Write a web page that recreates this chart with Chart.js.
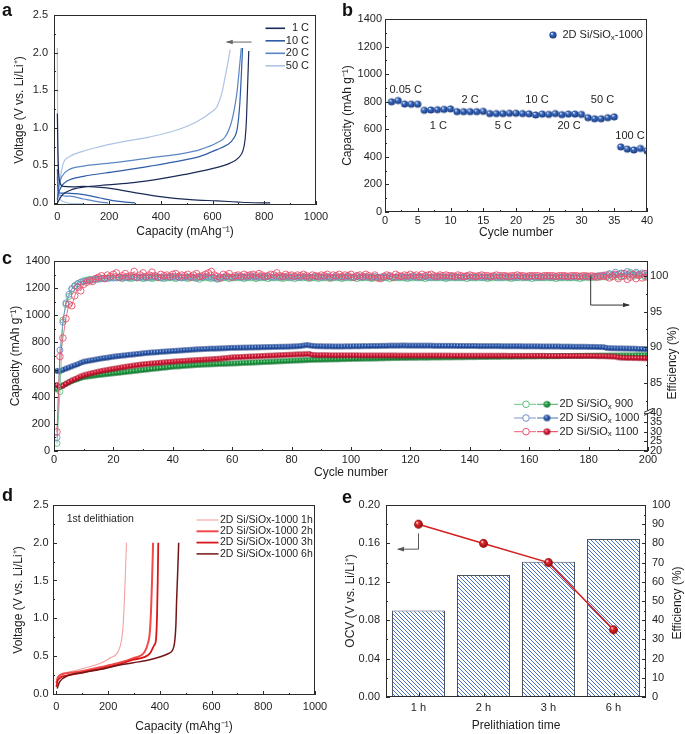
<!DOCTYPE html>
<html>
<head>
<meta charset="utf-8">
<script src="https://cdn.jsdelivr.net/npm/chart.js@4.4.1/dist/chart.umd.min.js"></script>
<style>
  body { margin: 0; background: #fff; width: 685px; height: 734px; position: relative; overflow: hidden;
         font-family: "Liberation Sans", Arial, Helvetica, sans-serif; }
  canvas { position: absolute; }
  .lt { position: absolute; font-weight: bold; font-size: 18px; line-height: 18px; color: #111; }
</style>
</head>
<body>
<canvas id="ca" width="340" height="240" style="left:0;top:0"></canvas>
<canvas id="cb" width="345" height="240" style="left:340px;top:0"></canvas>
<canvas id="cc" width="685" height="245" style="left:0;top:240px"></canvas>
<canvas id="cd" width="340" height="249" style="left:0;top:485px"></canvas>
<canvas id="ce" width="345" height="249" style="left:340px;top:485px"></canvas>
<div class="lt" style="left:2px;top:1px">a</div>
<div class="lt" style="left:342px;top:1px">b</div>
<div class="lt" style="left:2px;top:249px">c</div>
<div class="lt" style="left:2px;top:486px">d</div>
<div class="lt" style="left:342px;top:488px">e</div>

<script>
// ---------- panel a : charge / discharge at different rates ----------
const aRates = ['1 C', '10 C', '20 C', '50 C'];
const aColors = ['#1b2a57', '#2f5ca8', '#5b86c4', '#aec4e4'];
const capCh1 = [0, 8, 20, 50, 100, 191, 294, 397, 488, 591, 668, 700, 718, 726, 731, 735, 738, 740];
const vCh1 = [0, 0.05, 0.11, 0.17, 0.21, 0.24, 0.27, 0.32, 0.376, 0.45, 0.53, 0.6, 0.7, 0.85, 1.1, 1.5, 1.8, 2.02];
const capCh10 = [0, 4, 10, 20, 36, 101, 230, 359, 488, 552, 617, 655, 680, 696, 705, 711, 716];
const vCh10 = [0.03, 0.12, 0.18, 0.24, 0.29, 0.354, 0.42, 0.49, 0.57, 0.62, 0.71, 0.77, 0.85, 1.0, 1.3, 1.68, 2.06];
const capCh20 = [0, 4, 10, 17, 49, 101, 230, 359, 488, 552, 617, 649, 675, 694, 704, 711];
const vCh20 = [0.05, 0.18, 0.28, 0.35, 0.45, 0.49, 0.54, 0.6, 0.66, 0.71, 0.8, 0.88, 1.1, 1.46, 1.8, 2.06];
const capCh50 = [0, 4, 12, 17, 23, 49, 101, 165, 230, 359, 462, 539, 600, 617, 636, 650, 660, 668];
const vCh50 = [0.05, 0.18, 0.35, 0.44, 0.53, 0.62, 0.69, 0.75, 0.8, 0.88, 0.97, 1.08, 1.22, 1.28, 1.46, 1.7, 1.88, 2.04];
const capDis1 = [0, 2, 5, 10, 23, 60, 101, 191, 294, 397, 514, 617, 700, 733, 823];
const vDis1 = [1.19, 0.7, 0.4, 0.27, 0.22, 0.215, 0.22, 0.2, 0.14, 0.085, 0.045, 0.027, 0.012, 0.006, 0.0];
const capDis10 = [0, 3, 10, 36, 101, 165, 230, 300];
const vDis10 = [0.45, 0.2, 0.13, 0.13, 0.11, 0.066, 0.025, 0.0];
const capDis20 = [0, 2, 4, 49, 101, 165, 197];
const vDis20 = [0.35, 0.15, 0.11, 0.09, 0.053, 0.012, 0.0];
const capDis50 = [0, 1, 2, 5, 23, 62, 100];
const vDis50 = [2.06, 1.0, 0.3, 0.09, 0.02, -0.01, -0.01];

// ---------- panel b : rate capability ----------
const bCycles = [1,2,3,4,5,6,7,8,9,10,11,12,13,14,15,16,17,18,19,20,21,22,23,24,25,26,27,28,29,30,31,32,33,34,35,36,37,38,39,40];
const bCapacity = [799, 808, 783, 782, 782, 738, 740, 742, 744, 748, 728, 728, 728, 728, 730, 714, 714, 714, 716, 716,
                   714, 712, 704, 710, 708, 714, 706, 710, 710, 708, 684, 676, 676, 684, 690, 472, 456, 450, 461, 444];
const rateText = ['0.05 C', '2 C', '10 C', '50 C', '1 C', '5 C', '20 C', '100 C'];
const rateX = [3.16, 13, 23.2, 33.2, 8.14, 18.06, 28.1, 37.4];
const rateY = [885, 812, 812, 812, 626, 626, 626, 551];

// ---------- panel c : cycling, 200 cycles ----------
const cCycles = Array.from({ length: 200 }, (_, i) => i + 1);
const cap900 = [
  455, 472, 485, 495, 505, 515, 523, 530, 538, 545,  548, 551, 554, 557, 560, 562, 565, 567, 570, 572,
  575, 577, 580, 582, 585, 587, 590, 592, 595, 597,  600, 602, 605, 607, 609, 612, 614, 616, 619, 621,
  623, 624, 626, 628, 629, 631, 632, 634, 635, 636,  637, 638, 639, 640, 641, 642, 642, 643, 644, 645,
  646, 647, 648, 649, 650, 651, 652, 653, 654, 655,  656, 657, 658, 659, 660, 661, 662, 663, 664, 665,
  666, 667, 668, 669, 670, 671, 672, 672, 673, 673,  674, 674, 675, 675, 676, 676, 677, 677, 678, 678,
  679, 679, 680, 680, 681, 681, 681, 682, 682, 683,  683, 684, 684, 685, 685, 685, 686, 686, 686, 687,
  687, 687, 688, 688, 688, 688, 689, 689, 689, 689,  690, 690, 690, 690, 691, 691, 691, 691, 692, 692,
  692, 692, 693, 693, 693, 693, 694, 694, 694, 694,  695, 695, 695, 695, 696, 696, 696, 696, 697, 697,
  697, 697, 698, 698, 698, 698, 699, 699, 699, 699,  700, 700, 700, 700, 701, 701, 701, 701, 702, 702,
  702, 702, 703, 703, 703, 703, 704, 704, 704, 704,  705, 705, 705, 705, 705, 706, 706, 706, 706, 706];
const cap1000 = [
  590, 588, 598, 607, 615, 624, 632, 640, 650, 658,  662, 666, 670, 674, 678, 682, 685, 688, 692, 695,
  698, 700, 703, 705, 708, 710, 712, 715, 717, 720,  722, 724, 726, 727, 729, 731, 732, 734, 735, 737,
  738, 740, 741, 743, 744, 746, 747, 749, 750, 751,  752, 753, 754, 754, 755, 756, 757, 758, 759, 760,
  760, 761, 761, 762, 762, 763, 763, 764, 764, 765,  765, 766, 766, 767, 767, 768, 768, 769, 769, 770,
  771, 772, 774, 777, 781, 778, 775, 773, 772, 772,  771, 771, 771, 770, 770, 770, 770, 771, 771, 771,
  772, 772, 772, 773, 773, 773, 774, 774, 774, 775,  775, 775, 776, 776, 776, 776, 777, 777, 776, 776,
  776, 776, 776, 776, 776, 776, 776, 775, 775, 775,  775, 775, 775, 775, 775, 774, 774, 774, 774, 774,
  774, 774, 773, 773, 773, 773, 773, 773, 773, 773,  772, 772, 772, 772, 772, 772, 772, 771, 771, 771,
  771, 771, 771, 770, 770, 770, 770, 770, 770, 770,  769, 769, 769, 769, 768, 768, 768, 768, 768, 767,
  767, 767, 766, 766, 765, 760, 758, 757, 757, 756,  756, 755, 755, 754, 754, 753, 752, 752, 751, 750];
const cap1100 = [
  486, 472, 480, 495, 508, 520, 530, 540, 550, 558,  564, 570, 575, 580, 585, 590, 594, 598, 602, 606,
  609, 613, 617, 620, 624, 627, 630, 633, 636, 639,  641, 643, 645, 647, 649, 651, 653, 655, 656, 658,
  660, 661, 663, 664, 666, 667, 668, 670, 671, 672,  674, 675, 676, 678, 679, 681, 683, 685, 688, 690,
  691, 692, 693, 694, 695, 696, 697, 698, 699, 700,  701, 702, 703, 704, 705, 706, 707, 708, 709, 710,
  711, 712, 712, 713, 714, 715, 708, 707, 706, 706,  706, 706, 705, 705, 705, 705, 705, 705, 705, 705,
  705, 705, 704, 704, 704, 704, 704, 704, 704, 704,  704, 704, 704, 704, 704, 703, 703, 703, 703, 703,
  703, 703, 703, 703, 703, 703, 703, 703, 703, 703,  703, 703, 703, 702, 702, 702, 702, 702, 702, 702,
  702, 702, 702, 702, 702, 702, 702, 702, 702, 702,  702, 702, 701, 701, 701, 701, 701, 701, 701, 701,
  701, 701, 701, 701, 701, 700, 700, 700, 700, 700,  700, 700, 700, 700, 700, 700, 700, 700, 700, 700,
  700, 700, 699, 699, 699, 698, 697, 696, 695, 690,  688, 687, 686, 686, 685, 685, 684, 684, 683, 683];
const eff900 = [
  24.0, 83.8, 93.8, 96.0, 97.1, 98.1, 98.6, 98.9, 99.1, 99.3,  99.4, 99.5, 99.5, 99.6, 99.6, 99.6, 99.7, 99.7, 99.7, 99.7,
  99.7, 99.7, 99.6, 99.7, 99.7, 99.6, 99.7, 99.7, 99.7, 99.6,  99.7, 99.7, 99.6, 99.7, 99.7, 99.7, 99.6, 99.7, 99.7, 99.7,
  99.6, 99.7, 99.7, 99.7, 99.6, 99.7, 99.7, 99.6, 99.5, 99.7,  99.7, 99.7, 99.6, 99.7, 99.5, 99.6, 99.7, 99.7, 99.6, 99.7,
  99.7, 99.7, 99.7, 99.6, 99.7, 99.7, 99.7, 99.6, 99.7, 99.7,  99.7, 99.6, 99.7, 99.7, 99.7, 99.7, 99.6, 99.7, 99.7, 99.7,
  99.6, 99.7, 99.7, 99.7, 99.7, 99.6, 99.7, 99.7, 99.6, 99.7,  99.7, 99.7, 99.6, 99.7, 99.7, 99.7, 99.6, 99.7, 99.7, 99.7,
  99.7, 99.6, 99.7, 99.7, 99.7, 99.7, 99.6, 99.7, 99.7, 99.7,  99.7, 99.7, 99.6, 99.7, 99.7, 99.7, 99.7, 99.7, 99.6, 99.7,
  99.7, 99.7, 99.7, 99.7, 99.6, 99.7, 99.7, 99.7, 99.7, 99.7,  99.7, 99.6, 99.7, 99.7, 99.7, 99.7, 99.7, 99.7, 99.6, 99.7,
  99.7, 99.7, 99.7, 99.7, 99.7, 99.6, 99.7, 99.7, 99.7, 99.7,  99.7, 99.7, 99.7, 99.6, 99.7, 99.7, 99.7, 99.7, 99.7, 99.7,
  99.6, 99.7, 99.7, 99.7, 99.7, 99.7, 99.7, 99.7, 99.6, 99.7,  99.7, 99.7, 99.7, 99.7, 99.7, 99.7, 99.6, 99.7, 99.8, 99.7,
  99.8, 99.7, 99.9, 99.8, 100.0, 99.8, 100.2, 99.9, 100.1, 99.8,  100.3, 99.9, 100.2, 100.5, 99.9, 100.3, 100.0, 100.2, 99.8, 100.1];
const eff1000 = [
  27.0, 89.6, 93.5, 96.2, 97.4, 98.2, 98.6, 98.9, 99.1, 99.2,  99.3, 99.4, 99.4, 99.5, 99.5, 99.6, 99.6, 99.6, 99.7, 99.7,
  99.7, 99.8, 99.7, 99.8, 99.7, 99.8, 99.8, 99.7, 99.8, 99.8,  99.7, 99.8, 99.8, 99.9, 99.8, 99.7, 99.8, 99.8, 99.8, 99.9,
  99.8, 99.8, 99.7, 99.8, 99.8, 99.9, 99.8, 99.7, 99.8, 99.8,  99.9, 99.8, 99.8, 99.7, 99.6, 99.8, 99.8, 99.9, 99.8, 99.8,
  99.8, 99.9, 99.8, 99.8, 99.8, 99.9, 99.9, 99.8, 99.8, 99.9,  99.8, 99.9, 99.8, 99.8, 99.9, 99.8, 99.8, 99.9, 99.8, 99.8,
  99.9, 99.8, 99.8, 99.9, 99.8, 99.8, 99.8, 99.9, 99.8, 99.8,  99.8, 99.9, 99.8, 99.8, 99.9, 99.8, 99.8, 99.8, 99.9, 99.8,
  99.8, 99.9, 99.8, 99.8, 99.9, 99.8, 99.8, 99.9, 99.8, 99.8,  99.8, 99.8, 99.9, 99.8, 99.8, 99.8, 99.9, 99.8, 99.8, 99.8,
  99.9, 99.8, 99.8, 99.8, 99.9, 99.8, 99.8, 99.8, 99.8, 99.9,  99.8, 99.8, 99.8, 99.9, 99.8, 99.8, 99.8, 99.8, 99.9, 99.8,
  99.8, 99.8, 99.9, 99.8, 99.8, 99.8, 99.8, 99.9, 99.8, 99.8,  99.8, 99.9, 99.8, 99.8, 99.8, 99.8, 99.9, 99.8, 99.8, 99.8,
  99.9, 99.8, 99.8, 99.8, 99.8, 99.9, 99.8, 99.8, 99.9, 99.8,  99.8, 99.9, 99.8, 99.8, 99.9, 99.8, 99.9, 99.8, 99.9, 99.9,
  99.8, 99.9, 100.0, 99.9, 100.1, 99.9, 100.3, 100.1, 100.5, 100.2,  100.4, 100.0, 100.6, 100.3, 100.1, 100.5, 100.2, 100.4, 100.0, 100.3];
const eff1100 = [
  30.0, 88.7, 91.3, 94.0, 96.0, 95.8, 97.2, 98.4, 97.9, 98.8,  99.1, 99.3, 99.2, 99.6, 99.8, 100.0, 99.6, 100.1, 99.9, 100.2,
  100.4, 99.8, 100.0, 100.3, 99.9, 100.0, 100.6, 99.8, 100.1, 100.4,  99.9, 100.1, 100.5, 100.0, 99.8, 100.2, 100.0, 100.1, 99.9, 100.2,
  100.3, 99.9, 100.1, 100.0, 100.2, 99.8, 100.1, 100.3, 99.9, 100.0,  100.2, 100.4, 100.6, 100.1, 99.9, 99.7, 100.2, 100.0, 100.3, 99.8,
  100.0, 100.1, 99.9, 100.2, 100.0, 100.1, 100.2, 100.0, 100.3, 100.1,  99.9, 100.0, 100.2, 100.1, 100.4, 100.0, 99.9, 100.2, 100.0, 100.1,
  99.9, 100.1, 100.0, 100.2, 100.0, 99.8, 100.1, 100.0, 99.9, 100.1,  100.0, 100.2, 99.8, 100.1, 100.0, 100.2, 99.9, 100.1, 100.0, 100.2,
  99.8, 100.0, 100.1, 99.9, 100.2, 100.0, 99.8, 100.1, 99.7, 99.6,  99.9, 100.1, 100.0, 99.8, 100.2, 100.0, 99.9, 100.1, 100.0, 100.2,
  100.0, 100.1, 99.9, 100.2, 100.0, 100.1, 100.2, 100.0, 99.9, 100.1,  100.0, 100.1, 100.0, 100.0, 99.9, 100.1, 100.0, 99.9, 100.0, 100.1,
  100.0, 99.9, 100.0, 100.1, 100.0, 100.0, 99.9, 100.0, 100.1, 100.0,  100.0, 100.0, 99.9, 100.0, 100.0, 100.1, 100.0, 100.0, 99.9, 100.0,
  100.0, 100.0, 100.0, 99.9, 100.0, 100.0, 100.0, 100.0, 99.9, 100.0,  100.0, 100.0, 99.9, 100.0, 100.0, 100.0, 99.9, 100.0, 100.0, 99.9,
  100.0, 99.9, 99.8, 100.0, 99.9, 100.1, 99.7, 99.9, 100.2, 99.6,  99.9, 100.3, 99.5, 99.8, 100.2, 99.6, 100.1, 99.7, 100.3, 99.8];
const effTickVals = [20, 25, 30, 35, 40, 85, 90, 95, 100];
const effMinorVals = [82.5, 87.5, 92.5, 97.5];

// ---------- panel d : 1st delithiation after prelithiation ----------
const dNames = ['2D Si/SiOx-1000 1h', '2D Si/SiOx-1000 2h', '2D Si/SiOx-1000 3h', '2D Si/SiOx-1000 6h'];
const dColors = ['#f3a2a2', '#f04a4a', '#d81818', '#741515'];
const capD1 = [0, 3, 13, 52, 103, 168, 206, 239, 252, 258, 263, 267, 271];
const vD1 = [0.11, 0.18, 0.25, 0.29, 0.335, 0.4, 0.47, 0.56, 0.71, 0.9, 1.24, 1.6, 2.0];
const capD2 = [0, 6, 39, 103, 168, 232, 297, 342, 355, 361, 366, 370, 374];
const vD2 = [0.14, 0.22, 0.27, 0.3, 0.35, 0.4, 0.47, 0.56, 0.68, 0.8, 1.1, 1.5, 2.0];
const capD3 = [0, 6, 39, 103, 168, 232, 297, 361, 378, 385, 389, 392, 394];
const vD3 = [0.09, 0.18, 0.24, 0.28, 0.33, 0.38, 0.45, 0.53, 0.64, 0.71, 1.0, 1.5, 2.0];
const capD6 = [3, 13, 39, 103, 168, 232, 297, 361, 432, 454, 462, 465, 469, 473];
const vD6 = [0.07, 0.16, 0.23, 0.28, 0.32, 0.37, 0.41, 0.45, 0.53, 0.62, 0.9, 1.24, 1.6, 2.0];

// ---------- panel e : prelithiation time ----------
const eTimes = ['1 h', '2 h', '3 h', '6 h'];
const eEfficiency = [45, 63.5, 70.5, 82.3];
const eOCV = [0.18, 0.16, 0.14, 0.07];

// ---------------------------------------------------------------------
const FONT = '"Liberation Sans", Arial, Helvetica, sans-serif';
const INK = '#1e1e1e';
Chart.defaults.font.family = FONT;
Chart.defaults.font.size = 11;
Chart.defaults.color = INK;
Chart.defaults.animation = false;
Chart.defaults.responsive = false;
Chart.defaults.plugins.legend.display = false;
Chart.defaults.plugins.tooltip.enabled = false;

const pts = (xs, ys) => xs.map((x, i) => ({ x, y: ys[i] }));
const steps = (a, b, st) => { const r = []; for (let v = a; v <= b + 1e-9; v += st) r.push(+v.toFixed(4)); return r; };

// efficiency axis of panel c is broken: 20-40 below, ~81-102 above
function effToAxis(e) {
  if (e <= 40) return (e - 20) * 1.92;
  if (e >= 81.1) return 68 + (e - 85) * 7.15;
  return 38.4 + (e - 40) / 41.1 * 1.6;
}

function axis(o) {
  const a = {
    type: o.type || 'linear',
    position: o.pos,
    grid: { display: false, drawTicks: false },
    border: { display: false },
    afterFit: o.pos === 'bottom' ? s => { s.height = o.size; } : s => { s.width = o.size; },
    ticks: { padding: o.pad, maxRotation: 0, autoSkip: false, color: INK, font: { size: 11 } },
    title: o.title ? { display: true, text: o.title, color: INK, font: { size: 12 }, padding: o.tpad } : { display: false }
  };
  if (o.min !== undefined) a.min = o.min;
  if (o.max !== undefined) a.max = o.max;
  if (o.ticks) a.afterBuildTicks = s => { s.ticks = o.ticks.map(v => ({ value: v })); };
  if (o.fmt) a.ticks.callback = o.fmt;
  else if (a.type === 'linear') a.ticks.callback = v => String(v);
  if (o.offset !== undefined) a.offset = o.offset;
  return a;
}

// frame + inward tick marks
function frame(minor) {
  return {
    id: 'frame',
    afterDatasetsDraw(chart) {
      const { ctx, chartArea: a, scales } = chart;
      ctx.save();
      ctx.strokeStyle = '#2b2b2b';
      ctx.lineWidth = 1;
      ctx.beginPath();
      for (const id in scales) {
        const s = scales[id];
        const mk = (vals, len) => vals.forEach(v => {
          const p = Math.round(s.getPixelForValue(v)) + 0.5;
          if (s.position === 'left') { ctx.moveTo(a.left, p); ctx.lineTo(a.left + len, p); }
          else if (s.position === 'right') { ctx.moveTo(a.right, p); ctx.lineTo(a.right - len, p); }
          else { ctx.moveTo(p, a.bottom); ctx.lineTo(p, a.bottom - len); }
        });
        mk(s.ticks.map(t => t.value), 4);
        mk(minor[id] || [], 2);
      }
      ctx.stroke();
      ctx.strokeRect(Math.round(a.left) + 0.5, Math.round(a.top) + 0.5, Math.round(a.width) - 1, Math.round(a.height) - 1);
      ctx.restore();
    }
  };
}

function sphere(r, base, dark) {
  const c = document.createElement('canvas');
  const s = Math.ceil(r * 2) + 2;
  c.width = c.height = s;
  const g = c.getContext('2d');
  const m = s / 2;
  const grd = g.createRadialGradient(m - r * 0.35, m - r * 0.4, r * 0.05, m, m, r);
  grd.addColorStop(0, '#ffffff');
  grd.addColorStop(0.3, base);
  grd.addColorStop(1, dark);
  g.fillStyle = grd;
  g.beginPath(); g.arc(m, m, r, 0, Math.PI * 2); g.fill();
  return c;
}

function arrow(ctx, p, color) {
  ctx.save();
  ctx.strokeStyle = color; ctx.fillStyle = color; ctx.lineWidth = 1;
  ctx.beginPath(); ctx.moveTo(p[0][0], p[0][1]);
  for (let i = 1; i < p.length; i++) ctx.lineTo(p[i][0], p[i][1]);
  ctx.stroke();
  const [x1, y1] = p[p.length - 2], [x2, y2] = p[p.length - 1];
  ctx.translate(x2, y2); ctx.rotate(Math.atan2(y2 - y1, x2 - x1));
  ctx.beginPath(); ctx.moveTo(1, 0); ctx.lineTo(-6, -2.3); ctx.lineTo(-6, 2.3); ctx.closePath(); ctx.fill();
  ctx.restore();
}

// text with a subscript part: parts = [[text, isSub], ...]
function rich(ctx, x, y, parts, size) {
  ctx.save();
  ctx.fillStyle = INK; ctx.textBaseline = 'middle'; ctx.textAlign = 'left';
  let cx = x;
  for (const [t, sub] of parts) {
    ctx.font = (sub ? size * 0.72 : size) + 'px ' + FONT;
    ctx.fillText(t, cx, sub ? y + size * 0.22 : y);
    cx += ctx.measureText(t).width;
  }
  ctx.restore();
}

function vTitle(ctx, text, x, y) {
  ctx.save();
  ctx.translate(x, y); ctx.rotate(-Math.PI / 2);
  ctx.font = '12px ' + FONT; ctx.fillStyle = INK;
  ctx.textAlign = 'center'; ctx.textBaseline = 'middle';
  ctx.fillText(text, 0, 0);
  ctx.restore();
}

const curve = (label, xs, ys, color, w) => ({
  label, data: pts(xs, ys), borderColor: color, borderWidth: w || 1.2,
  pointRadius: 0, cubicInterpolationMode: 'monotone', fill: false
});

// ---------------- chart a ----------------
new Chart(document.getElementById('ca'), {
  type: 'line',
  data: {
    datasets: [
      curve('1 C', capCh1, vCh1, aColors[0]), curve('1 C', capDis1, vDis1, aColors[0]),
      curve('10 C', capCh10, vCh10, aColors[1]), curve('10 C', capDis10, vDis10, aColors[1]),
      curve('20 C', capCh20, vCh20, aColors[2]), curve('20 C', capDis20, vDis20, aColors[2]),
      curve('50 C', capCh50, vCh50, aColors[3]), curve('50 C', capDis50, vDis50, aColors[3])
    ]
  },
  options: {
    layout: { padding: { left: 0, right: 24, top: 15, bottom: 0 } },
    scales: {
      x: axis({ pos: 'bottom', min: -13, max: 1000, size: 35, pad: 5, ticks: steps(0, 1000, 200),
                title: 'Capacity (mAhg\u207B\u00B9)', tpad: { top: 0, bottom: 1 } }),
      y: axis({ pos: 'left', min: -0.027, max: 2.5, size: 54, pad: 6, ticks: steps(0, 2.5, 0.5), fmt: v => v.toFixed(1),
                title: 'Voltage (V vs. Li/Li\u207A)', tpad: { top: 12, bottom: 0 } })
    }
  },
  plugins: [frame({ x: steps(100, 900, 200), y: steps(0.25, 2.25, 0.5) }), {
    id: 'decorA',
    afterDraw(chart) {
      const { ctx, scales: { x, y } } = chart;
      ctx.save();
      ctx.font = '11px ' + FONT; ctx.textBaseline = 'middle'; ctx.textAlign = 'right';
      aRates.forEach((r, i) => {
        const yy = 28.3 + i * 12.5;
        ctx.strokeStyle = aColors[i]; ctx.lineWidth = 1.6;
        ctx.beginPath(); ctx.moveTo(265.5, yy); ctx.lineTo(285, yy); ctx.stroke();
        ctx.fillStyle = INK; ctx.fillText(r, 309, yy);
      });
      ctx.restore();
      arrow(ctx, [[x.getPixelForValue(751), y.getPixelForValue(2.14)], [x.getPixelForValue(655), y.getPixelForValue(2.14)]], '#666');
    }
  }]
});

// ---------------- chart b ----------------
new Chart(document.getElementById('cb'), {
  type: 'line',
  data: {
    datasets: [{
      label: '2D Si/SiOx-1000', data: pts(bCycles, bCapacity), showLine: false,
      pointStyle: sphere(3.6, '#3d72cc', '#163478')
    }]
  },
  options: {
    layout: { padding: { left: 0, right: 38, top: 19, bottom: 0 } },
    scales: {
      x: axis({ pos: 'bottom', min: 0, max: 40, size: 28, pad: 2, ticks: steps(0, 40, 5),
                title: 'Cycle number', tpad: { top: 0, bottom: 0 } }),
      y: axis({ pos: 'left', min: 0, max: 1400, size: 45, pad: 3, ticks: steps(0, 1400, 200),
                title: 'Capacity (mAh g\u207B\u00B9)', tpad: { top: 0, bottom: 0 } })
    }
  },
  plugins: [frame({ x: steps(2.5, 37.5, 5), y: steps(100, 1300, 200) }), {
    id: 'decorB',
    afterDraw(chart) {
      const { ctx, scales: { x, y } } = chart;
      ctx.save();
      ctx.font = '11px ' + FONT; ctx.fillStyle = INK; ctx.textAlign = 'center'; ctx.textBaseline = 'middle';
      rateText.forEach((t, i) => ctx.fillText(t, x.getPixelForValue(rateX[i]), y.getPixelForValue(rateY[i])));
      ctx.drawImage(sphere(3.6, '#3d72cc', '#163478'), 213 - 5, 35 - 5);
      ctx.restore();
      rich(ctx, 222.5, 35, [['2D Si/SiO', false], ['x', true], ['-1000', false]], 11);
    }
  }]
});

// ---------------- chart c ----------------
const cSeries = [
  { name: '900', cap: cap900, eff: eff900, line: '#2ca24a', open: '#5dbf7a', base: '#2bb04f', dark: '#0f6b2a', r: 3.0 },
  { name: '1000', cap: cap1000, eff: eff1000, line: '#2f5db0', open: '#6f8ccc', base: '#3a6cc2', dark: '#15357a', r: 3.0 },
  { name: '1100', cap: cap1100, eff: eff1100, line: '#e01b3c', open: '#e9506c', base: '#ee2746', dark: '#94081e', r: 3.3 }
];
const effSets = cSeries.map(s => ({
  label: 'eff ' + s.name, yAxisID: 'y2',
  data: cCycles.map((c, i) => ({ x: c, y: effToAxis(s.eff[i]) })),
  borderColor: s.open, borderWidth: 0.8, pointRadius: s.r, pointBorderWidth: 0.9,
  pointBorderColor: s.open, pointBackgroundColor: 'rgba(255,255,255,0)', fill: false
}));
const capSets = cSeries.map(s => ({
  label: 'cap ' + s.name, yAxisID: 'y',
  data: pts(cCycles, s.cap), borderColor: s.line, borderWidth: 0.8,
  pointStyle: sphere(2.7, s.base, s.dark), fill: false
}));
new Chart(document.getElementById('cc'), {
  type: 'line',
  data: { datasets: [effSets[2], effSets[1], effSets[0], capSets[1], capSets[2], capSets[0]] },
  options: {
    layout: { padding: { left: 0, right: 0, top: 21, bottom: 0 } },
    scales: {
      x: axis({ pos: 'bottom', min: 0, max: 200, size: 34, pad: 2.5, ticks: steps(0, 200, 20),
                title: 'Cycle number', tpad: { top: 0, bottom: 5 } }),
      y: axis({ pos: 'left', min: 0, max: 1400, size: 54, pad: 4, ticks: steps(0, 1400, 200),
                title: 'Capacity (mAh g\u207B\u00B9)', tpad: { top: 8, bottom: 0 } }),
      y2: axis({ pos: 'right', min: 0, max: 190, size: 37, pad: 2, ticks: effTickVals.map(effToAxis),
                 fmt: (v, i) => effTickVals[i] })
    }
  },
  plugins: [frame({ x: steps(10, 190, 20), y: steps(100, 1300, 200), y2: effMinorVals.map(effToAxis) }), {
    id: 'decorC',
    afterDraw(chart) {
      const { ctx, chartArea: a, scales: { x, y2 } } = chart;
      // axis break on the right frame
      const yb = y2.getPixelForValue(39.2);
      ctx.save();
      ctx.fillStyle = '#fff'; ctx.fillRect(a.right - 3, yb - 1.5, 6, 3);
      ctx.strokeStyle = '#2b2b2b'; ctx.lineWidth = 1;
      ctx.beginPath();
      ctx.moveTo(a.right - 4, yb + 0.5); ctx.lineTo(a.right + 5, yb - 3.5);
      ctx.moveTo(a.right - 4, yb + 3.5); ctx.lineTo(a.right + 5, yb - 0.5);
      ctx.stroke();
      ctx.restore();
      arrow(ctx, [[x.getPixelForValue(180.7), y2.getPixelForValue(effToAxis(100))],
                  [x.getPixelForValue(180.7), y2.getPixelForValue(effToAxis(95.9))],
                  [x.getPixelForValue(193.6), y2.getPixelForValue(effToAxis(95.9))]], '#333');
      vTitle(ctx, 'Efficiency (%)', 673, 123);
      // legend
      cSeries.forEach((s, i) => {
        const yy = 164.3 + i * 13.7;
        ctx.save();
        ctx.strokeStyle = s.open; ctx.lineWidth = 0.9;
        ctx.beginPath(); ctx.moveTo(514, yy); ctx.lineTo(536, yy); ctx.stroke();
        ctx.strokeStyle = s.line;
        ctx.beginPath(); ctx.moveTo(537, yy); ctx.lineTo(558, yy); ctx.stroke();
        ctx.fillStyle = '#fff'; ctx.strokeStyle = s.open; ctx.lineWidth = 1;
        ctx.beginPath(); ctx.arc(526, yy, 3.3, 0, Math.PI * 2); ctx.fill(); ctx.stroke();
        ctx.drawImage(sphere(3.3, s.base, s.dark), 547 - 4.5, yy - 4.5);
        ctx.restore();
        rich(ctx, 559.5, yy, [['2D Si/SiO', false], ['x', true], [' ' + s.name, false]], 11);
      });
    }
  }]
});

// ---------------- chart d ----------------
new Chart(document.getElementById('cd'), {
  type: 'line',
  data: {
    datasets: [
      curve(dNames[3], capD6, vD6, dColors[3], 1.5),
      curve(dNames[2], capD3, vD3, dColors[2], 1.8),
      curve(dNames[1], capD2, vD2, dColors[1], 2.0),
      curve(dNames[0], capD1, vD1, dColors[0], 1.1)
    ]
  },
  options: {
    layout: { padding: { left: 0, right: 25, top: 20, bottom: 0 } },
    scales: {
      x: axis({ pos: 'bottom', min: -13, max: 1000, size: 39, pad: 5.5, ticks: steps(0, 1000, 200),
                title: 'Capacity (mAhg\u207B\u00B9)', tpad: { top: 0, bottom: 0 } }),
      y: axis({ pos: 'left', min: -0.017, max: 2.5, size: 53, pad: 4.5, ticks: steps(0, 2.5, 0.5), fmt: v => v.toFixed(1),
                title: 'Voltage (V vs. Li/Li\u207A)', tpad: { top: 11, bottom: 0 } })
    }
  },
  plugins: [frame({ x: steps(100, 900, 200), y: steps(0.25, 2.25, 0.5) }), {
    id: 'decorD',
    afterDraw(chart) {
      const { ctx } = chart;
      ctx.save();
      ctx.font = '10.5px ' + FONT; ctx.fillStyle = INK; ctx.textBaseline = 'middle'; ctx.textAlign = 'left';
      ctx.fillText('1st delithiation', 66.7, 34);
      const widths = [1.1, 2.0, 1.8, 1.5];
      dNames.forEach((n, i) => {
        const yy = 35 + i * 11.3;
        ctx.strokeStyle = dColors[i]; ctx.lineWidth = widths[i];
        ctx.beginPath(); ctx.moveTo(196.5, yy); ctx.lineTo(218.5, yy); ctx.stroke();
        ctx.fillText(n, 220, yy);
      });
      ctx.restore();
    }
  }]
});

// ---------------- chart e ----------------
const ctxE = document.getElementById('ce').getContext('2d');
// hatch tile: blue "\" lines on white
const tile = document.createElement('canvas');
tile.width = tile.height = 4;
const tg = tile.getContext('2d');
tg.fillStyle = '#ffffff'; tg.fillRect(0, 0, 4, 4);
tg.fillStyle = '#4a72c8';
for (let i = 0; i < 4; i++) tg.fillRect(i, i, 1, 1);
const hatch = ctxE.createPattern(tile, 'repeat');

new Chart(ctxE, {
  data: {
    labels: eTimes,
    datasets: [
      { type: 'line', label: 'OCV', data: eOCV, yAxisID: 'y', order: 0,
        borderColor: '#d42020', borderWidth: 1.6, pointStyle: sphere(4.4, '#e8282c', '#860a0a') },
      { type: 'bar', label: 'Efficiency', data: eEfficiency, yAxisID: 'y2', order: 1,
        backgroundColor: hatch, borderColor: '#4a5262', borderWidth: 1,
        barPercentage: 0.815, categoryPercentage: 1 }
    ]
  },
  options: {
    layout: { padding: { left: 0, right: 0, top: 20, bottom: 0 } },
    scales: {
      x: axis({ type: 'category', pos: 'bottom', size: 37, pad: 4, offset: true,
                title: 'Prelithiation time', tpad: { top: 0, bottom: 1 } }),
      y: axis({ pos: 'left', min: 0, max: 0.2, size: 46, pad: 6, ticks: steps(0, 0.2, 0.04), fmt: v => v.toFixed(2),
                title: 'OCV (V vs. Li/Li\u207A)', tpad: { top: 3, bottom: 0 } }),
      y2: axis({ pos: 'right', min: 0, max: 100, size: 39, pad: 6, ticks: steps(0, 100, 10) })
    }
  },
  plugins: [frame({ y: steps(0.02, 0.18, 0.04), y2: steps(5, 95, 10) }), {
    id: 'decorE',
    afterDraw(chart) {
      const { ctx, scales: { x, y } } = chart;
      const x0 = x.getPixelForValue(0);
      arrow(ctx, [[x0, y.getPixelForValue(0.1705)], [x0, y.getPixelForValue(0.154)],
                  [x0 - 20.5, y.getPixelForValue(0.154)]], '#555');
      vTitle(ctx, 'Efficiency (%)', 338, 118);
    }
  }]
});
</script>
</body>
</html>
